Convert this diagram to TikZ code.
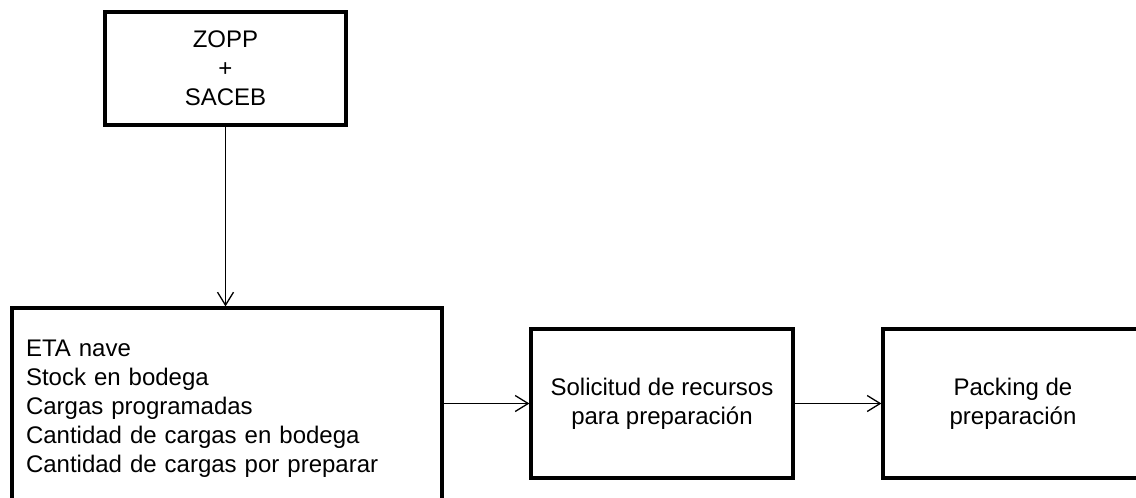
\documentclass[tikz,border=0pt]{standalone}
\usepackage{fontspec}
\setmainfont{Liberation Sans}
\usetikzlibrary{arrows.meta,calc}
\begin{document}
\begin{tikzpicture}[x=1pt,y=-1pt,
  box/.style={draw=black, line width=3.2pt, rectangle, inner sep=0pt, align=center,
    font=\fontsize{24pt}{28.8pt}\selectfont, text=black},
  arr/.style={draw=black, line width=1.3pt, -{Straight Barb[length=13pt,width=16pt,line width=1.3pt]}}
]
\useasboundingbox (0,0) rectangle (1136,498);
\clip (0,0) rectangle (1136,498);
\fill[white] (0,0) rectangle (1136,498);

\node[box, minimum width=241pt, minimum height=113pt] (src) at (225.5,68.5) {ZOPP\\+\\SACEB};

\node[box, minimum width=430pt, minimum height=202pt, text width=402pt, inner xsep=14pt, align=left,
  font=\fontsize{24pt}{29pt}\selectfont] (data) at (227,409)
  {ETA nave\\Stock en bodega\\Cargas programadas\\Cantidad de cargas en bodega\\Cantidad de cargas por preparar};

\node[box, minimum width=262pt, minimum height=149pt] (req) at (662,403.5) {Solicitud de recursos\\para preparación};

\node[box, minimum width=260pt, minimum height=149pt] (pack) at (1013,403.5) {Packing de\\preparación};

\draw[arr] (src.south) -- (src.south |- data.north);
\draw[arr] (data.east |- req.west) -- (req.west);
\draw[arr] (req.east) -- (pack.west);
\end{tikzpicture}
\end{document}
